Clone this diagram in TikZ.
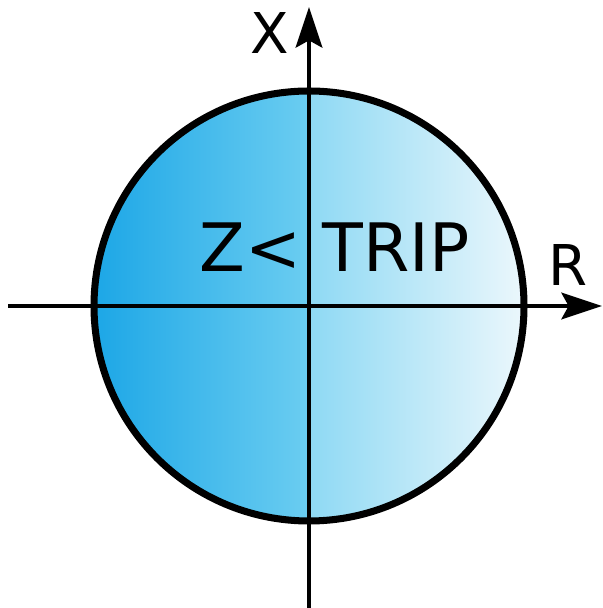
\documentclass[tikz,border=0pt]{standalone}
\usepackage{fontspec}
\setmainfont{DejaVu Sans}
\usetikzlibrary{arrows.meta}

\definecolor{zoneleftA}{HTML}{1BA6E6}
\definecolor{zoneleftB}{HTML}{6BCDF1}
\definecolor{zonerightA}{HTML}{8ED9F4}
\definecolor{zonerightB}{HTML}{EEF8FC}

\tikzset{
    axis/.style={line width=2.8pt, -{Stealth[length=23pt, width=15pt, inset=4pt]}},
    axislabel/.style={inner sep=0pt, font=\fontsize{32}{34}\selectfont},
}

\begin{document}
\begin{tikzpicture}
    \useasboundingbox (0,0) rectangle (12.04,12.16);

    % Centre of the trip zone
    \coordinate (O) at (6.18,6.04);

    % Shaded zone, left and right half
    \begin{scope}
        \clip (O) circle (4.3cm);
        \shade[left color=zoneleftA, right color=zoneleftB] (1.8,1.6) rectangle (6.18,10.5);
        \shade[left color=zonerightA, right color=zonerightB] (6.18,1.6) rectangle (10.6,10.5);
    \end{scope}
    \draw[line width=4pt] (O) circle (4.3cm);

    % Axes
    \coordinate (Rstart) at (0.16,6.04);
    \coordinate (Rend) at (12.04,6.04);
    \coordinate (Xstart) at (6.18,0);
    \coordinate (Xend) at (6.18,12.02);
    \draw[axis] (Rstart) -- (Rend);
    \draw[axis] (Xstart) -- (Xend);

    % Labels
    \node[axislabel] (Xlab) at (5.4,11.5) {X};
    \node[axislabel] (Rlab) at (11.36,6.86) {R};
    \node[inner sep=0pt, font=\fontsize{38}{40}\selectfont] (zone) at (6.69,7.21) {Z< TRIP};

\end{tikzpicture}
\end{document}
